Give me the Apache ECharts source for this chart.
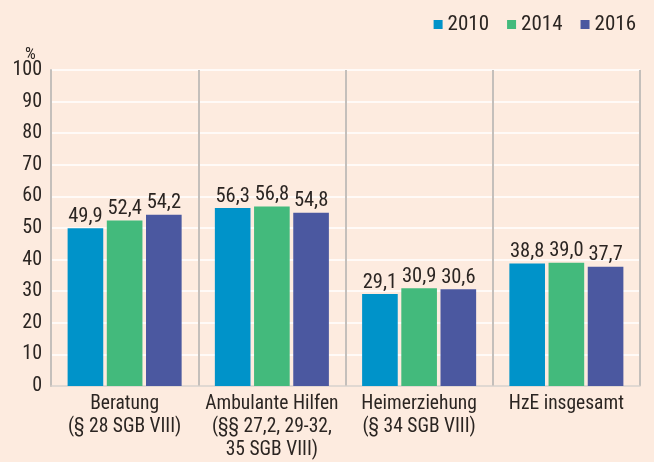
<!DOCTYPE html>
<html lang="de">
<head>
    <meta http-equiv="Content-Type" content="text/html;charset=utf-8">
    <script type="text/javascript" src="https://cdn.jsdelivr.net/npm/echarts@6/dist/echarts.min.js"></script>
    <title>HzE</title>
    <style>
        html, body { margin: 0; padding: 0; background: #fdebdf; }
        #main { width: 654px; height: 462px; }
    </style>
</head>
<body>
<div id="main"></div>
<script>
    var categories = [
        'Beratung\n(§ 28 SGB VIII)',
        'Ambulante Hilfen\n(§§ 27,2, 29-32,\n35 SGB VIII)',
        'Heimerziehung\n(§ 34 SGB VIII)',
        'HzE insgesamt'
    ];
    var years = ['2010', '2014', '2016'];
    var values2010 = [49.9, 56.3, 29.1, 38.8];
    var values2014 = [52.4, 56.8, 30.9, 39.0];
    var values2016 = [54.2, 54.8, 30.6, 37.7];
    var colors = ['#0093c9', '#43ba7c', '#4b58a0'];

    var font = '"Roboto Condensed", "Liberation Sans Narrow", "Liberation Sans", sans-serif';
    var txt = '#2b2522';

    function fmt(p) {
        return p.value.toFixed(1).replace('.', ',');
    }

    var seriesData = [values2010, values2014, values2016];

    var myChart = echarts.init(document.getElementById('main'));
    var option = {
        backgroundColor: '#fdebdf',
        animation: false,
        color: colors,
        textStyle: {fontFamily: font},
        legend: {
            data: years,
            right: 13,
            top: 9,
            icon: 'rect',
            itemWidth: 9,
            itemHeight: 9,
            itemGap: 18,
            textStyle: {fontFamily: font, fontSize: 21, color: txt}
        },
        graphic: [{
            type: 'text',
            left: 25,
            top: 46,
            style: {text: '%', font: '17px ' + font, fill: txt}
        }],
        grid: {
            left: 51,
            right: 14,
            top: 70,
            bottom: 75,
            containLabel: false
        },
        xAxis: {
            type: 'category',
            data: categories,
            axisLine: {show: true, lineStyle: {color: '#d6cdc6', width: 1.5}},
            axisTick: {show: false},
            splitLine: {show: true, lineStyle: {color: '#c4bfbb', width: 2}},
            axisLabel: {
                interval: 0,
                margin: 7,
                fontFamily: font,
                fontSize: 19.5,
                lineHeight: 23,
                color: txt
            }
        },
        yAxis: {
            type: 'value',
            min: 0,
            max: 100,
            interval: 10,
            axisLine: {show: true, lineStyle: {color: '#c4bfbb', width: 2}},
            axisTick: {show: false},
            splitLine: {show: true, lineStyle: {color: '#ffffff', width: 1.5}},
            axisLabel: {
                margin: 9,
                fontFamily: font,
                fontSize: 20,
                color: txt
            }
        },
        series: years.map(function (y, i) {
            return {
                name: y,
                type: 'bar',
                barWidth: '24.2%',
                barGap: '10%',
                data: seriesData[i],
                label: {
                    show: true,
                    position: 'top',
                    distance: 1,
                    formatter: fmt,
                    fontFamily: font,
                    fontSize: 20.5,
                    color: txt
                }
            };
        })
    };
    myChart.setOption(option);
</script>
</body>
</html>
